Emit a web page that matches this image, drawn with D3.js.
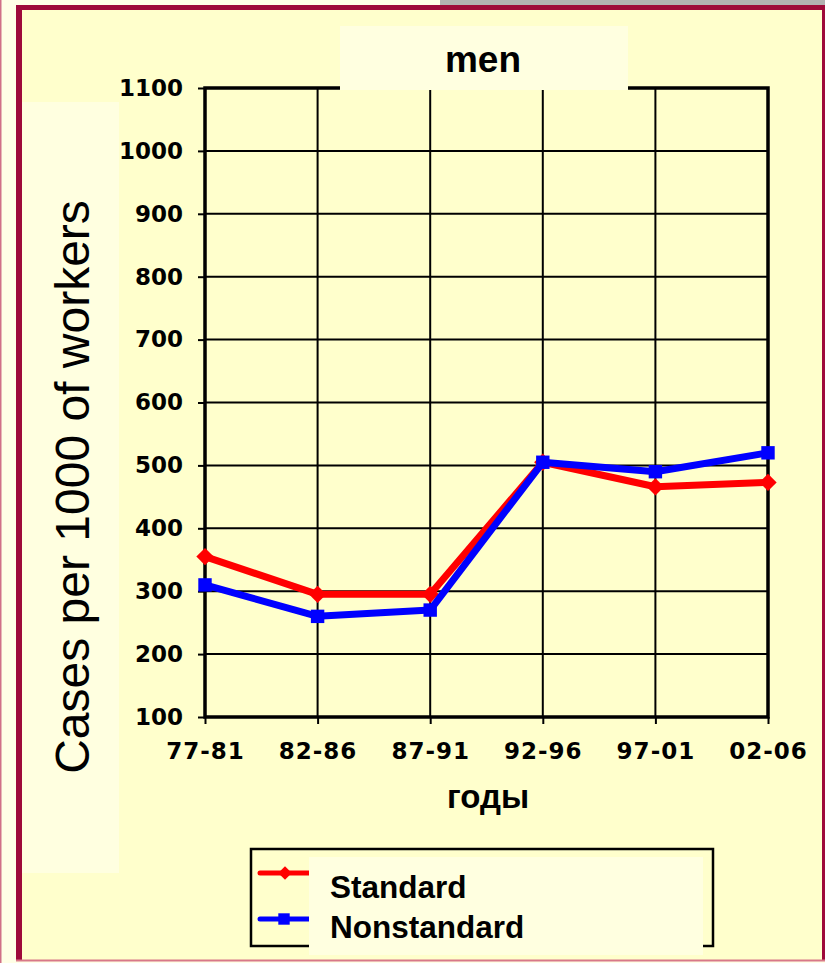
<!DOCTYPE html>
<html>
<head>
<meta charset="utf-8">
<script src="https://cdn.jsdelivr.net/npm/d3@7"></script>
<style>
  html, body { margin: 0; padding: 0; background: #FFFFE6; }
  svg { display: block; }
</style>
</head>
<body>
<svg id="chart" width="825" height="963"></svg>
<script>
// Periods on the x axis
const periods = ["77-81", "82-86", "87-91", "92-96", "97-01", "02-06"];
// Cases per 1000 workers, by work schedule
const standardValues = [355, 295, 295, 505, 466, 473];
const nonstandardValues = [310, 260, 270, 505, 490, 520];
const yTicks = [100, 200, 300, 400, 500, 600, 700, 800, 900, 1000, 1100];
const seriesNames = ["Standard", "Nonstandard"];

const svg = d3.select("#chart");
const W = 825, H = 963;

// page frame
svg.append("rect").attr("x", 0).attr("y", 0).attr("width", W).attr("height", H).attr("fill", "#FFFFE6");
svg.append("rect").attr("x", 440).attr("y", 0).attr("width", W - 440).attr("height", 6).attr("fill", "#B2B2B2");
svg.append("rect").attr("x", 0).attr("y", 0).attr("width", 1.5).attr("height", H).attr("fill", "#D07088");
svg.append("rect").attr("x", 16).attr("y", 5).attr("width", W - 16).attr("height", 955).attr("fill", "#9E0A3A");
svg.append("rect").attr("x", 22).attr("y", 10).attr("width", W - 22 - 3).attr("height", 950).attr("fill", "#FFFFCC");
svg.append("rect").attr("x", 16).attr("y", 959.5).attr("width", W - 16).attr("height", 2).attr("fill", "#D87888");

const x = d3.scalePoint().domain(periods).range([205, 768]).padding(0);
const y = d3.scaleLinear().domain([100, 1100]).range([717, 88]);

const plot = svg.append("g");

// horizontal grid
plot.selectAll("line.hgrid").data(yTicks).join("line")
  .attr("class", "hgrid")
  .attr("x1", x.range()[0]).attr("x2", x.range()[1])
  .attr("y1", d => y(d)).attr("y2", d => y(d))
  .attr("stroke", "#000").attr("stroke-width", 2);

// vertical grid
plot.selectAll("line.vgrid").data(periods).join("line")
  .attr("class", "vgrid")
  .attr("x1", d => x(d)).attr("x2", d => x(d))
  .attr("y1", y(1100)).attr("y2", y(100))
  .attr("stroke", "#000").attr("stroke-width", 2);

// plot border
plot.append("rect")
  .attr("x", x.range()[0]).attr("y", y(1100))
  .attr("width", x.range()[1] - x.range()[0]).attr("height", y(100) - y(1100))
  .attr("fill", "none").attr("stroke", "#000").attr("stroke-width", 3.5);

// y axis
const yAxis = svg.append("g")
  .attr("transform", `translate(${x.range()[0]},0)`)
  .call(d3.axisLeft(y).tickValues(yTicks).tickSize(7).tickPadding(15).tickFormat(d3.format("d")));
yAxis.select(".domain").remove();
yAxis.selectAll(".tick line").attr("stroke", "#000").attr("stroke-width", 2);
yAxis.selectAll(".tick text")
  .attr("font-family", "'DejaVu Sans', Verdana, sans-serif")
  .attr("font-weight", "bold").attr("font-size", 23).attr("fill", "#000");

// x axis
const xAxis = svg.append("g")
  .attr("transform", `translate(0,${y(100)})`)
  .call(d3.axisBottom(x).tickSize(7).tickPadding(19));
xAxis.select(".domain").remove();
xAxis.selectAll(".tick line").attr("stroke", "#000").attr("stroke-width", 2);
xAxis.selectAll(".tick text")
  .attr("font-family", "'DejaVu Sans', Verdana, sans-serif")
  .attr("font-weight", "bold").attr("font-size", 23).attr("letter-spacing", 1).attr("fill", "#000");

// series
const line = d3.line().x((d, i) => x(periods[i])).y(d => y(d));

svg.append("path").datum(standardValues)
  .attr("d", line).attr("fill", "none")
  .attr("stroke", "#FF0000").attr("stroke-width", 7).attr("stroke-linejoin", "round");
svg.selectAll("path.std").data(standardValues).join("path")
  .attr("class", "std")
  .attr("d", d3.symbol().type(d3.symbolSquare).size(150))
  .attr("transform", (d, i) => `translate(${x(periods[i])},${y(d)}) rotate(45)`)
  .attr("fill", "#FF0000");

svg.append("path").datum(nonstandardValues)
  .attr("d", line).attr("fill", "none")
  .attr("stroke", "#0000FF").attr("stroke-width", 7).attr("stroke-linejoin", "round");
svg.selectAll("path.nst").data(nonstandardValues).join("path")
  .attr("class", "nst")
  .attr("d", d3.symbol().type(d3.symbolSquare).size(180))
  .attr("transform", (d, i) => `translate(${x(periods[i])},${y(d)})`)
  .attr("fill", "#0000FF");

// chart title
svg.append("rect").attr("x", 340).attr("y", 26).attr("width", 288).attr("height", 64).attr("fill", "#FFFFE0");
svg.append("text").attr("x", 483).attr("y", 72)
  .attr("text-anchor", "middle")
  .attr("font-family", "'Liberation Sans', Arial, sans-serif")
  .attr("font-weight", "bold").attr("font-size", 37)
  .text("men");

// y axis title
svg.append("rect").attr("x", 22).attr("y", 102).attr("width", 97).attr("height", 771).attr("fill", "#FFFFE0");
svg.append("text")
  .attr("transform", "translate(89,487) rotate(-90)")
  .attr("text-anchor", "middle")
  .attr("font-family", "'Liberation Sans', Arial, sans-serif")
  .attr("font-size", 48)
  .text("Cases per 1000 of workers");

// x axis title
svg.append("text").attr("x", 488).attr("y", 808)
  .attr("text-anchor", "middle")
  .attr("font-family", "'Liberation Sans', Arial, sans-serif")
  .attr("font-weight", "bold").attr("font-size", 33)
  .text("годы");

// legend
const legend = svg.append("g");
legend.append("rect").attr("x", 251).attr("y", 849).attr("width", 462).attr("height", 97)
  .attr("fill", "none").attr("stroke", "#000").attr("stroke-width", 2.5);
const legendItems = [
  { name: seriesNames[0], color: "#FF0000", y: 873, shape: "diamond" },
  { name: seriesNames[1], color: "#0000FF", y: 919, shape: "square" }
];
legendItems.forEach(it => {
  legend.append("line").attr("x1", 260).attr("x2", 320).attr("y1", it.y).attr("y2", it.y)
    .attr("stroke", it.color).attr("stroke-width", 5).attr("stroke-linecap", "round");
  if (it.shape === "diamond") {
    legend.append("path").attr("d", d3.symbol().type(d3.symbolSquare).size(90))
      .attr("transform", `translate(285,${it.y}) rotate(45)`).attr("fill", it.color);
  } else {
    legend.append("path").attr("d", d3.symbol().type(d3.symbolSquare).size(130))
      .attr("transform", `translate(284,${it.y})`).attr("fill", it.color);
  }
});
legend.append("rect").attr("x", 309).attr("y", 857).attr("width", 394).attr("height", 98).attr("fill", "#FFFFE0");
legendItems.forEach((it, i) => {
  legend.append("text").attr("x", 330).attr("y", 898 + i * 40)
    .attr("font-family", "'Liberation Sans', Arial, sans-serif")
    .attr("font-weight", "bold").attr("font-size", 31.5)
    .text(it.name);
});
</script>
</body>
</html>
